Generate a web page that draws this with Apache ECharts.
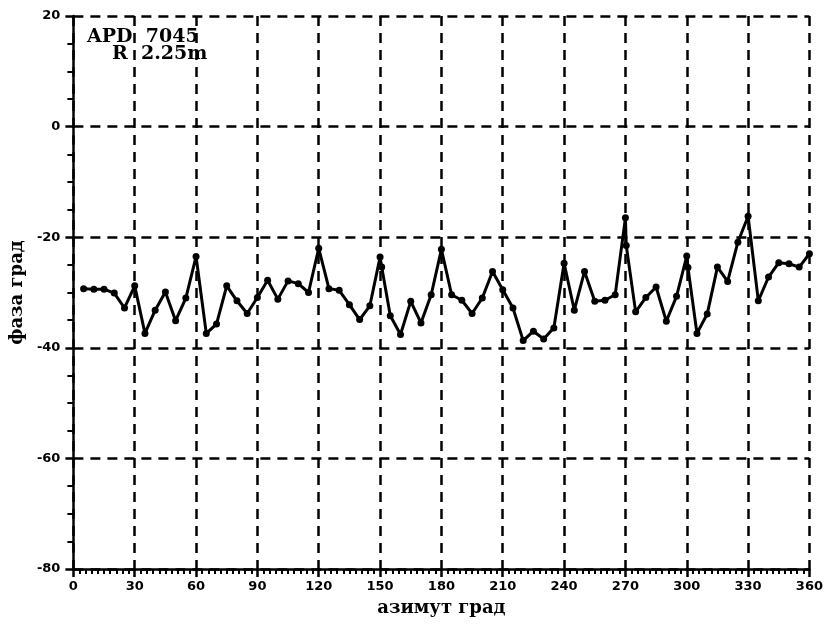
<!DOCTYPE html>
<html>
<head>
<meta charset="utf-8">
<script src="https://cdn.jsdelivr.net/npm/echarts@6/dist/echarts.min.js"></script>
<style>
  html, body { margin: 0; padding: 0; background: #fff; }
  #chart { width: 826px; height: 627px; }
</style>
</head>
<body>
<div id="chart"></div>
<script>
// Azimuth (deg) and measured phase (deg) of the APD 7045 pattern at R = 2.25 m
const azimuth = [
  5, 10, 15, 20, 25, 30, 35, 40, 45, 50, 55, 60,
  65, 70, 75, 80, 85, 90, 95, 100, 105, 110, 115, 120,
  125, 130, 135, 140, 145, 150, 150.8, 155, 160, 165, 170, 175, 180,
  185, 190, 195, 200, 205, 210, 215, 220, 225, 230, 235, 240,
  245, 250, 255, 260, 265, 270, 270.4, 275, 280, 285, 290, 295, 300, 300.6,
  305, 310, 315, 320, 325, 330, 335, 340, 345, 350, 355, 360
];
const phase = [
  -29.3, -29.4, -29.4, -30.1, -32.8, -28.8, -37.4, -33.2, -29.9, -35.1, -31.0, -23.5,
  -37.4, -35.7, -28.8, -31.5, -33.8, -30.9, -27.8, -31.2, -27.9, -28.4, -30.0, -22.0,
  -29.3, -29.6, -32.2, -34.9, -32.4, -23.6, -25.4, -34.2, -37.6, -31.6, -35.5, -30.4, -22.2,
  -30.4, -31.4, -33.8, -31.0, -26.2, -29.5, -32.8, -38.7, -37.0, -38.4, -36.4, -24.7,
  -33.2, -26.2, -31.6, -31.4, -30.4, -16.5, -21.5, -33.5, -30.9, -29.0, -35.2, -30.7, -23.4, -25.5,
  -37.4, -33.9, -25.4, -28.0, -20.9, -16.2, -31.5, -27.2, -24.6, -24.8, -25.4, -23.0
];

const xTicks = [0, 30, 60, 90, 120, 150, 180, 210, 240, 270, 300, 330, 360];
const yTicks = [-80, -60, -40, -20, 0, 20];

const points = azimuth.map((a, i) => [a, phase[i]]);

const gridDash = { color: '#000', width: 2.5, type: [10, 7] };
const labelFont = { color: '#000', fontFamily: 'DejaVu Sans', fontWeight: 'bold', fontSize: 13 };

const chart = echarts.init(document.getElementById('chart'), null, { renderer: 'canvas' });
chart.setOption({
  animation: false,
  backgroundColor: '#fff',
  grid: { left: 72, right: 14, top: 16, bottom: 58 },
  xAxis: {
    type: 'value',
    min: xTicks[0],
    max: xTicks[xTicks.length - 1],
    interval: 30,
    name: 'азимут град',
    nameLocation: 'middle',
    nameGap: 30,
    nameTextStyle: { color: '#000', fontFamily: 'DejaVu Serif', fontWeight: 'bold', fontSize: 18 },
    axisLine: { show: true, onZero: false, lineStyle: { color: '#000', width: 2.5 } },
    axisTick: { show: true, inside: false, length: 8, lineStyle: { color: '#000', width: 2.5 } },
    minorTick: { show: true, splitNumber: 10, length: 5, lineStyle: { color: '#000', width: 2 } },
    axisLabel: Object.assign({ margin: 11 }, labelFont),
    splitLine: { show: true, lineStyle: gridDash }
  },
  yAxis: {
    type: 'value',
    min: yTicks[0],
    max: yTicks[yTicks.length - 1],
    interval: 20,
    name: 'фаза град',
    nameLocation: 'middle',
    nameGap: 46,
    nameRotate: 90,
    nameTextStyle: { color: '#000', fontFamily: 'DejaVu Serif', fontWeight: 'bold', fontSize: 18 },
    axisLine: { show: true, onZero: false, lineStyle: { color: '#000', width: 2.5 } },
    axisTick: { show: true, inside: false, length: 8, lineStyle: { color: '#000', width: 2.5 } },
    minorTick: { show: true, splitNumber: 4, length: 6, lineStyle: { color: '#000', width: 2 } },
    axisLabel: Object.assign({ margin: 13 }, labelFont),
    splitLine: { show: true, lineStyle: gridDash }
  },
  graphic: [
    {
      type: 'text', left: 87, top: 28,
      style: { text: 'APD  7045', fill: '#000', font: 'bold 19px "DejaVu Serif"' }
    },
    {
      type: 'text', left: 112, top: 45,
      style: { text: 'R  2.25m', fill: '#000', font: 'bold 19px "DejaVu Serif"' }
    }
  ],
  series: [{
    type: 'line',
    data: points,
    symbol: 'circle',
    symbolSize: 7,
    lineStyle: { color: '#000', width: 3 },
    itemStyle: { color: '#000' },
    z: 5
  }]
});
</script>
</body>
</html>
